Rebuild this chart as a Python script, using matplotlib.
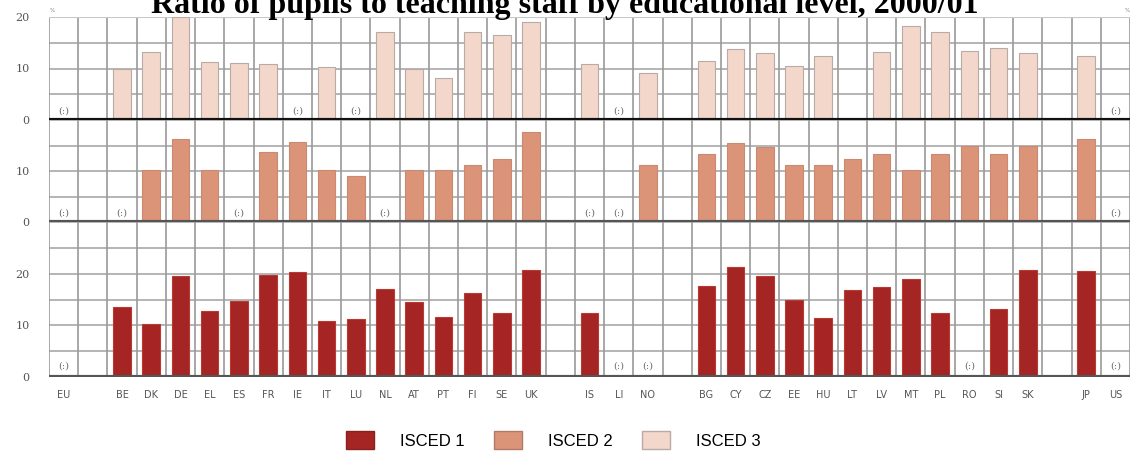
import numpy as np
import matplotlib.pyplot as plt
from matplotlib.patches import Patch

# --- dati (rapporto alunni / personale docente, 2000/01) ---
countries = ['EU', '', 'BE', 'DK', 'DE', 'EL', 'ES', 'FR', 'IE', 'IT', 'LU', 'NL',
             'AT', 'PT', 'FI', 'SE', 'UK', '', 'IS', 'LI', 'NO', '',
             'BG', 'CY', 'CZ', 'EE', 'HU', 'LT', 'LV', 'MT', 'PL', 'RO', 'SI', 'SK',
             '', 'JP', 'US']

N = np.nan
# None = dato non disponibile "(:)", nan = nessuna barra
isced1 = [None, N, 13.5, 10.2, 19.5, 12.7, 14.8, 19.7, 20.4, 10.9, 11.2, 17.1,
          14.5, 11.6, 16.2, 12.3, 20.8, N, 12.4, None, None, N,
          17.6, 21.2, 19.5, 15.0, 11.4, 16.8, 17.5, 19.0, 12.3, None, 13.2, 20.8,
          N, 20.5, None]
isced2 = [None, N, None, 10.2, 16.2, 10.1, None, 13.8, 15.6, 10.1, 9.1, None,
          10.1, 10.2, 11.2, 12.4, 17.7, N, None, None, 11.2, N,
          13.3, 15.4, 14.8, 11.2, 11.2, 12.4, 13.4, 10.1, 13.4, 15.0, 13.4, 14.9,
          N, 16.2, None]
isced3 = [None, N, 9.9, 13.3, 20.0, 11.3, 11.0, 10.8, None, 10.3, None, 17.0,
          9.9, 8.2, 17.0, 16.6, 19.0, N, 10.8, None, 9.2, N,
          11.5, 13.8, 13.1, 10.5, 12.4, N, 13.3, 18.3, 17.1, 13.4, 13.9, 13.1,
          N, 12.4, None]

col1 = '#a52424'
col2 = '#dc9479'
col3 = '#f3d7ca'

W, H = 1141, 453
fig = plt.figure(figsize=(W / 100, H / 100), dpi=100)

x = np.arange(len(countries))
left = 49 / W
width = 1081 / W


def pannello(y_top, y_bot, vals, colore, ymax, yticks, zero_col, bordo):
    ax = fig.add_axes([left, 1 - y_bot / H, width, (y_bot - y_top) / H])
    ax.set_xlim(-0.5, len(countries) - 0.5)
    ax.set_ylim(0, ymax)
    # griglia
    for yy in np.arange(5, ymax + 0.1, 5):
        ax.axhline(yy, color='#a8a8a8', lw=1.2, zorder=0)
    for xx in np.arange(-0.5, len(countries) + 0.5, 1):
        ax.axvline(xx, color='#9a9a9a', lw=1.2, zorder=0)
    h = np.array([np.nan if v is None else v for v in vals], dtype=float)
    ax.bar(x, np.nan_to_num(h), width=0.6, color=colore, edgecolor=bordo,
           linewidth=0.8, zorder=2)
    for i, v in enumerate(vals):
        if v is None:
            ax.text(i, ymax * 0.04, '(:)', ha='center', va='bottom', fontsize=7,
                    color='#707070', family='DejaVu Serif', zorder=3)
    ax.axhline(0, color=zero_col, lw=3, zorder=4)
    for s in ax.spines.values():
        s.set_visible(False)
    ax.set_yticks(yticks)
    ax.set_yticklabels([str(t) for t in yticks], fontsize=8, color='#555555',
                       family='DejaVu Serif')
    ax.tick_params(axis='y', length=0, pad=14)
    ax.set_xticks([])
    return ax


ax3 = pannello(17, 120, isced3, col3, 20, [0, 10, 20], '#111111', '#b8aaa4')
ax2 = pannello(120, 222, isced2, col2, 20, [0, 10], '#555555', '#c98a72')
ax1 = pannello(222, 377, isced1, col1, 30, [0, 10, 20], '#555555', '#b83a30')
ax3.axhline(20, color='#c8c8c8', lw=1.5, zorder=1)

ax1.set_xticks(x)
ax1.set_xticklabels(countries, fontsize=7, color='#555555')
ax1.tick_params(axis='x', length=0, pad=9)

# titolo (nel riferimento è tagliato in alto)
fig.text(565 / W, 1 - 13 / H, 'Ratio of pupils to teaching staff by educational level, 2000/01',
         ha='center', va='baseline', fontsize=23, fontweight='bold',
         family='Liberation Serif')
fig.text(50 / W, 1 - 12 / H, '%', fontsize=4, color='#888888')
fig.text(1125 / W, 1 - 12 / H, '%', fontsize=4, color='#888888')

handles = [Patch(facecolor=col1, edgecolor='#8a2020', label='ISCED 1'),
           Patch(facecolor=col2, edgecolor='#b07a68', label='ISCED 2'),
           Patch(facecolor=col3, edgecolor='#b8aaa4', label='ISCED 3')]
fig.legend(handles=handles, loc='center', bbox_to_anchor=(553 / W, 1 - 440 / H),
           ncol=3, frameon=False, prop={'family': 'Liberation Sans', 'size': 12},
           handlelength=1.7, handleheight=1.3, handletextpad=1.55, columnspacing=1.75)

fig.savefig('out.png', dpi=100)
